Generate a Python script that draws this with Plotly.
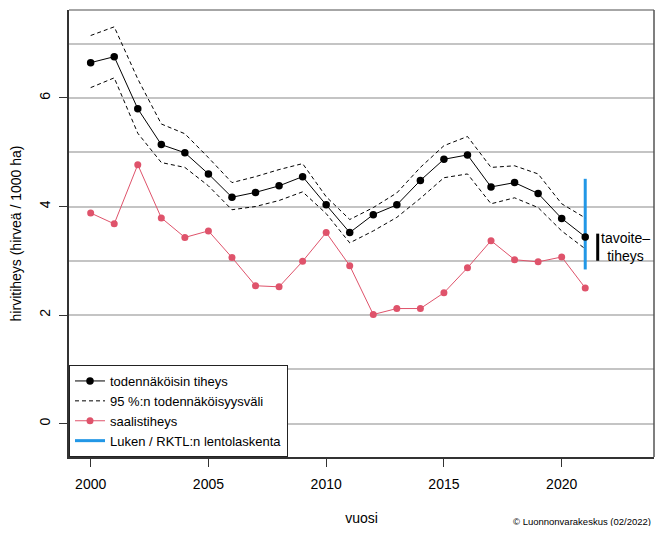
import plotly.graph_objects as go

years = list(range(2000, 2022))
median = [6.65, 6.76, 5.80, 5.14, 4.99, 4.60, 4.17, 4.26, 4.38, 4.55, 4.03,
          3.52, 3.85, 4.03, 4.48, 4.87, 4.95, 4.36, 4.44, 4.24, 3.78, 3.44]
upper = [7.15, 7.31, 6.35, 5.52, 5.34, 4.90, 4.44, 4.55, 4.68, 4.79, 4.18,
         3.76, 3.98, 4.25, 4.72, 5.12, 5.29, 4.72, 4.75, 4.60, 4.05, 3.79]
lower = [6.19, 6.37, 5.35, 4.81, 4.72, 4.38, 3.94, 4.00, 4.11, 4.27, 3.87,
         3.33, 3.55, 3.80, 4.15, 4.53, 4.60, 4.05, 4.16, 3.98, 3.55, 3.22]
harvest = [3.88, 3.68, 4.77, 3.79, 3.43, 3.55, 3.06, 2.54, 2.52, 2.99, 3.52,
           2.91, 2.01, 2.12, 2.12, 2.41, 2.87, 3.37, 3.02, 2.98, 3.07, 2.50]
survey_year = [2021, 2021]
survey_range = [2.84, 4.51]
target_x = [2021.53, 2021.53]
target_range = [3.0, 3.5]
target_label = "tavoite–<br>tiheys"

legend_names = ["todennäköisin tiheys", "95 %:n todennäköisyysväli",
                "saalistiheys", "Luken / RKTL:n lentolaskenta"]
x_ticks = [2000, 2005, 2010, 2015, 2020]
y_ticks = [0, 2, 4, 6]

RED = "#DF536B"
BLUE = "#2297E6"
FONT = "Liberation Sans, Arial, sans-serif"

fig = go.Figure()

fig.add_trace(go.Scatter(x=survey_year, y=survey_range, mode="lines",
                         line=dict(color=BLUE, width=3),
                         name=legend_names[3], legendrank=4))
fig.add_trace(go.Scatter(x=years, y=upper, mode="lines",
                         line=dict(color="black", width=1, dash="4px,3px"),
                         name=legend_names[1], legendrank=2))
fig.add_trace(go.Scatter(x=years, y=lower, mode="lines",
                         line=dict(color="black", width=1, dash="4px,3px"),
                         name=legend_names[1], showlegend=False))
fig.add_trace(go.Scatter(x=years, y=harvest, mode="lines+markers",
                         line=dict(color=RED, width=1),
                         marker=dict(color=RED, size=7),
                         name=legend_names[2], legendrank=3))
fig.add_trace(go.Scatter(x=years, y=median, mode="lines+markers",
                         line=dict(color="black", width=1),
                         marker=dict(color="black", size=7.5),
                         name=legend_names[0], legendrank=1))
fig.add_trace(go.Scatter(x=target_x, y=target_range, mode="lines",
                         line=dict(color="black", width=3),
                         showlegend=False, hoverinfo="skip"))

fig.add_annotation(x=2022.72, y=sum(target_range) / 2, text=target_label,
                   showarrow=False, xanchor="center", yanchor="middle",
                   font=dict(size=14, color="black", family=FONT))

fig.add_annotation(x=0.998, y=-0.1454, xref="paper", yref="paper",
                   text="© Luonnonvarakeskus (02/2022)", showarrow=False,
                   xanchor="right", yanchor="middle",
                   font=dict(size=9.5, color="black", family=FONT))

# top and right frame edges
fig.add_shape(type="line", xref="paper", yref="paper", x0=0, x1=1, y0=1, y1=1,
              line=dict(color="#888888", width=1.5))
fig.add_shape(type="line", xref="paper", yref="paper", x0=1, x1=1, y0=0, y1=1,
              line=dict(color="#555555", width=1.5))

fig.update_layout(
    width=649, height=518,
    margin=dict(l=61, r=3, t=2, b=69, autoexpand=False),
    paper_bgcolor="white", plot_bgcolor="white",
    font=dict(family=FONT, size=14, color="black"),
    showlegend=True,
    legend=dict(x=0, y=0, xanchor="left", yanchor="bottom",
                bgcolor="white", bordercolor="#222222", borderwidth=1,
                font=dict(size=13, family=FONT), tracegroupgap=0,
                itemwidth=30),
    xaxis=dict(range=[1999.08, 2023.92], tickvals=x_ticks,
               showgrid=False, zeroline=False, automargin=False,
               showline=True, linecolor="#333333", linewidth=1.5,
               ticks="outside", ticklen=8, tickcolor="#333333",
               ticklabelstandoff=5, tickfont=dict(size=14),
               title=dict(text="vuosi", standoff=23,
                          font=dict(size=14))),
    yaxis=dict(range=[-0.615, 7.62], tickvals=y_ticks, tickangle=-90,
               showgrid=True, gridcolor="#C4C4C4", gridwidth=1.5,
               minor=dict(dtick=1, tick0=0, showgrid=True,
                          gridcolor="#C4C4C4", gridwidth=1.5),
               zeroline=False, automargin=False,
               showline=True, linecolor="#333333", linewidth=1.5,
               ticks="outside", ticklen=8, tickcolor="#333333",
               ticklabelstandoff=4, tickfont=dict(size=14),
               title=dict(text="hirvitiheys (hirveä / 1000 ha)", standoff=20,
                          font=dict(size=14))),
)

fig.write_html("out.html")
